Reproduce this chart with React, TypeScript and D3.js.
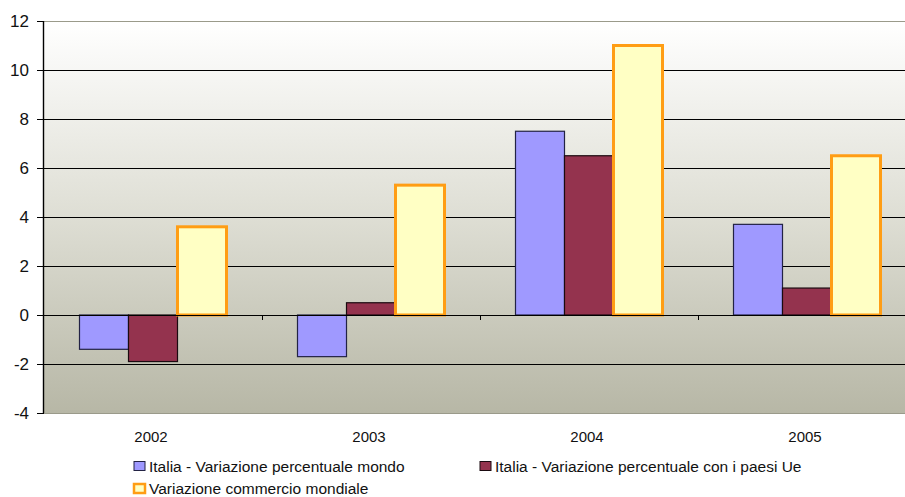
import React from "react";
import * as d3 from "d3";

const years = ["2002", "2003", "2004", "2005"];
const mondo = [-1.4, -1.7, 7.5, 3.7];
const paesiUe = [-1.9, 0.5, 6.5, 1.1];
const commercio = [3.6, 5.3, 11.0, 6.5];
const yTicks = [-4, -2, 0, 2, 4, 6, 8, 10, 12];

const seriesNames = [
  "Italia - Variazione percentuale mondo",
  "Italia - Variazione percentuale con i paesi Ue",
  "Variazione commercio mondiale",
];

const W = 905;
const H = 497;
const plotLeft = 44;
const plotTop = 21;
const plotBottom = 413;
const bandWidth = 218;

const styles = [
  { fill: "#9f99ff", stroke: "#222244", sw: 1.2 },
  { fill: "#94334e", stroke: "#1a0a10", sw: 1.2 },
  { fill: "#ffffc4", stroke: "#ff9d14", sw: 3 },
];

export default function App() {
  const x = d3
    .scaleBand<string>()
    .domain(years)
    .range([plotLeft, plotLeft + bandWidth * years.length])
    .paddingInner(0);
  const y = d3.scaleLinear().domain([-4, 12]).range([plotBottom, plotTop]);
  const inner = d3
    .scaleBand<number>()
    .domain([0, 1, 2])
    .range([0, 147]);
  const groupOffset = (bandWidth - 147) / 2;
  const data = [mondo, paesiUe, commercio];
  const font = "'Liberation Sans', Arial, sans-serif";

  return (
    <div style={{ position: "absolute", left: 0, top: 0 }}>
      <svg width={W} height={H} style={{ display: "block" }}>
        <defs>
          <linearGradient id="bg" x1="0" y1="0" x2="0" y2="1">
            <stop offset="0" stopColor="#ffffff" />
            <stop offset="0.5" stopColor="#deded4" />
            <stop offset="1" stopColor="#b7b7a6" />
          </linearGradient>
        </defs>
        <rect x={0} y={0} width={W} height={H} fill="#ffffff" />
        <rect
          x={plotLeft}
          y={plotTop}
          width={W - plotLeft}
          height={plotBottom - plotTop}
          fill="url(#bg)"
        />
        <line x1={plotLeft} x2={W} y1={plotTop + 0.5} y2={plotTop + 0.5} stroke="#9a9a8a" strokeWidth={1} />
        <line x1={plotLeft} x2={W} y1={plotBottom + 0.5} y2={plotBottom + 0.5} stroke="#9a9a8a" strokeWidth={1} />
        {yTicks.map((t) =>
          t === 12 || t === -4 ? null : (
            <line
              key={"g" + t}
              x1={plotLeft}
              x2={W}
              y1={Math.round(y(t)) + 0.5}
              y2={Math.round(y(t)) + 0.5}
              stroke="#000"
              strokeWidth={1}
            />
          )
        )}
        {years.map((yr, i) =>
          data.map((vals, s) => {
            const v = vals[i];
            const bx = (x(yr) as number) + groupOffset + (inner(s) as number);
            const y0 = y(0);
            const y1 = y(v);
            const st = styles[s];
            return (
              <rect
                key={yr + s}
                x={bx}
                y={Math.min(y0, y1)}
                width={inner.bandwidth()}
                height={Math.abs(y1 - y0)}
                fill={st.fill}
                stroke={st.stroke}
                strokeWidth={st.sw}
              />
            );
          })
        )}
        {/* category axis at zero */}
        <line x1={plotLeft} x2={W} y1={Math.round(y(0)) + 0.5} y2={Math.round(y(0)) + 0.5} stroke="#000" strokeWidth={1.2} />
        {years.map((yr, i) =>
          i === 0 ? null : (
            <line
              key={"xt" + yr}
              x1={(x(yr) as number) + 0.5}
              x2={(x(yr) as number) + 0.5}
              y1={y(0)}
              y2={y(0) + 5}
              stroke="#000"
            />
          )
        )}
        {/* value axis */}
        <line x1={plotLeft - 0.5} x2={plotLeft - 0.5} y1={plotTop} y2={plotBottom} stroke="#000" strokeWidth={1.4} />
        {yTicks.map((t) => (
          <g key={"yt" + t}>
            <line x1={plotLeft - 7} x2={plotLeft} y1={Math.round(y(t)) + 0.5} y2={Math.round(y(t)) + 0.5} stroke="#000" />
            <text
              x={29}
              y={y(t)}
              dy="0.36em"
              textAnchor="end"
              fontFamily={font}
              fontSize={17}
              fill="#111"
            >
              {t}
            </text>
          </g>
        ))}
        {years.map((yr) => (
          <text
            key={"xl" + yr}
            x={(x(yr) as number) + bandWidth / 2 - 2}
            y={441.5}
            textAnchor="middle"
            fontFamily={font}
            fontSize={15}
            fill="#111"
          >
            {yr}
          </text>
        ))}
        {/* legend */}
        {seriesNames.map((name, s) => {
          const lx = s === 1 ? 480 : 134;
          const ly = s === 2 ? 488.5 : 466;
          const st = styles[s];
          return (
            <g key={"lg" + s}>
              <rect
                x={lx}
                y={ly - 4.5}
                width={11}
                height={9}
                fill={st.fill}
                stroke={st.stroke}
                strokeWidth={s === 2 ? 2.5 : 1}
              />
              <text
                x={lx + 15}
                y={ly + 5.5}
                fontFamily={font}
                fontSize={15.5}
                fill="#111"
              >
                {name}
              </text>
            </g>
          );
        })}
      </svg>
    </div>
  );
}
